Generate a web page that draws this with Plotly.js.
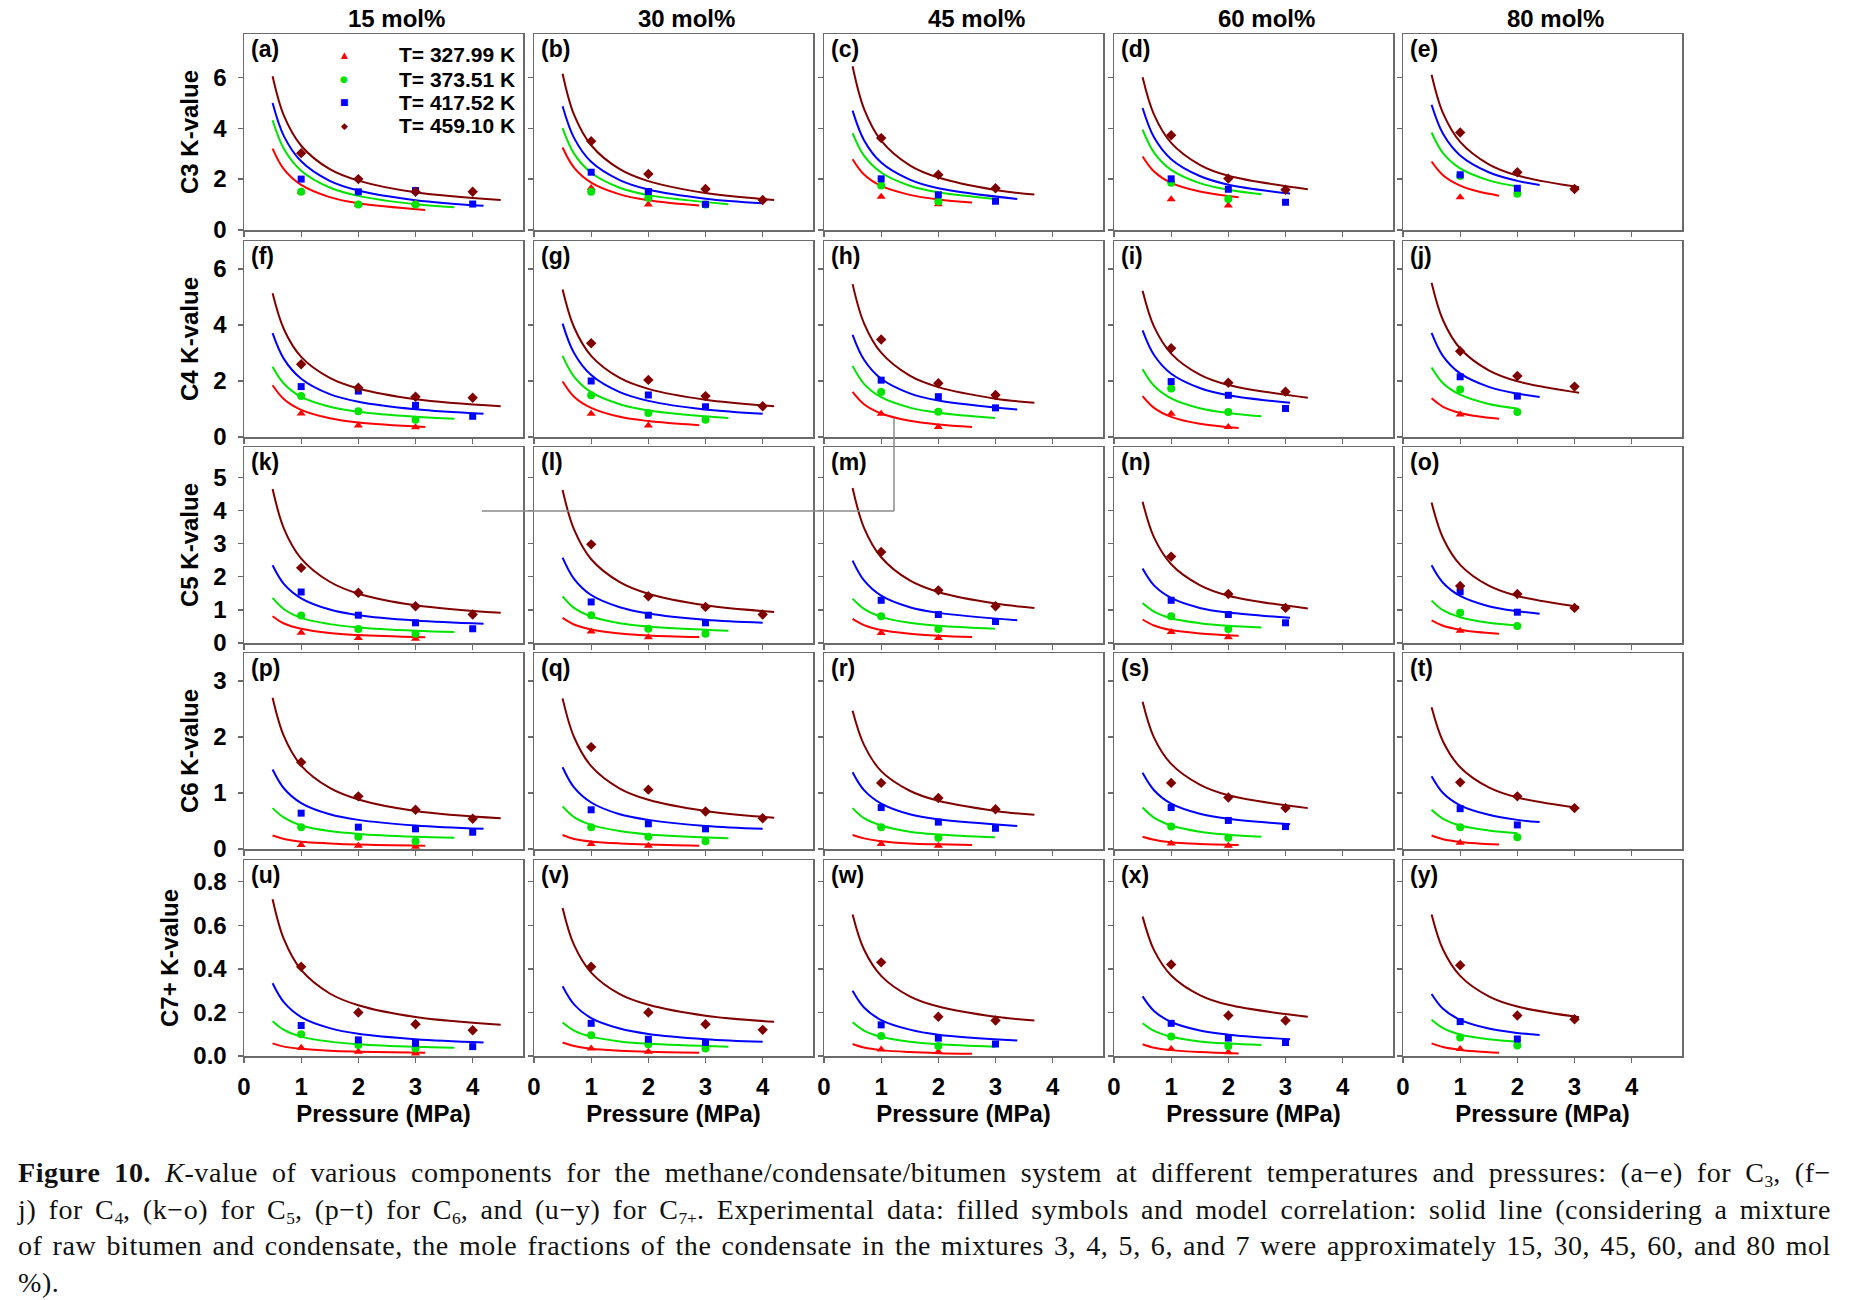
<!DOCTYPE html>
<html>
<head>
<meta charset="utf-8">
<script src="https://cdn.plot.ly/plotly-3.0.1.min.js"></script>
<style>
  html, body { margin:0; padding:0; background:#fff; }
  #chart { position:absolute; left:0; top:0; width:1864px; height:1300px; }
  #cap { position:absolute; left:18px; top:1155px; width:1813px; font-family:'Liberation Serif','DejaVu Serif',serif; font-size:28px; letter-spacing:0.6px; line-height:36.5px; color:#111; z-index:10; }
  #cap .jl { text-align:justify; text-align-last:justify; white-space:nowrap; }
  #cap sub { font-size:0.62em; line-height:0; vertical-align:-0.3em; letter-spacing:0; }
</style>
</head>
<body>
<div id="chart"></div>
<div id="cap">
  <div class="jl"><b>Figure 10.</b> <i>K</i>-value of various components for the methane/condensate/bitumen system at different temperatures and pressures: (a−e) for C<sub>3</sub>, (f−</div>
  <div class="jl">j) for C<sub>4</sub>, (k−o) for C<sub>5</sub>, (p−t) for C<sub>6</sub>, and (u−y) for C<sub>7+</sub>. Experimental data: filled symbols and model correlation: solid line (considering a mixture</div>
  <div class="jl">of raw bitumen and condensate, the mole fractions of the condensate in the mixtures 3, 4, 5, 6, and 7 were approximately 15, 30, 45, 60, and 80 mol</div>
  <div>%).</div>
</div>
<script>
// ---------------- DATA ----------------
const columnTitles = ['15 mol%', '30 mol%', '45 mol%', '60 mol%', '80 mol%'];
const components = ['C3', 'C4', 'C5', 'C6', 'C7+'];
const panelLetters = ['a','b','c','d','e','f','g','h','i','j','k','l','m','n','o','p','q','r','s','t','u','v','w','x','y'];
const temperatures = ['T= 327.99 K', 'T= 373.51 K', 'T= 417.52 K', 'T= 459.10 K'];
const expPressure = [1, 2, 3, 4];
const xTicks = [0, 1, 2, 3, 4];

// model-curve pressures, per temperature, per column (15,30,45,60,80 mol%)
const fitP_T1 = [[0.5,0.7,1,1.5,2,3.17],[0.5,0.7,1,1.5,2,2.89],[0.5,0.7,1,1.5,2,2.59],[0.5,0.7,1,1.5,2.18],[0.5,0.7,1,1.3,1.68]];
const fitP_T2 = [[0.5,0.7,1,1.5,2,3,3.68],[0.5,0.7,1,1.5,2,3.4],[0.5,0.7,1,1.5,2,2.99],[0.5,0.7,1,1.5,2,2.58],[0.5,0.7,1,1.5,2]];
const fitP_T3 = [[0.5,0.7,1,1.5,2,3,4.19],[0.5,0.7,1,1.5,2,3,4],[0.5,0.7,1,1.5,2,3.38],[0.5,0.7,1,1.5,2,3.08],[0.5,0.7,1,1.5,2,2.39]];
const fitP_T4 = [[0.5,0.7,1,1.5,2,3,4.49],[0.5,0.7,1,1.5,2,3,4.2],[0.5,0.7,1,1.5,2,3,3.68],[0.5,0.7,1,1.5,2,3.39],[0.5,0.7,1,1.5,2,3.08]];

// ---- C3 ----
const expC3_T1 = [[1.5,1.0,1.05,null],[1.65,1.0,null,null],[1.31,1.01,null,null],[1.21,0.96,null,null],[1.29,null,null,null]];
const expC3_T2 = [[1.5,1.0,1.0,null],[1.5,1.27,1.0,null],[1.75,1.12,null,null],[1.86,1.22,null,null],[2.12,1.42,null,null]];
const expC3_T3 = [[2.0,1.5,1.55,1.02],[2.27,1.51,1.01,null],[2.01,1.38,1.13,null],[2.01,1.6,1.09,null],[2.17,1.64,null,null]];
const expC3_T4 = [[3.02,2.0,1.5,1.5],[3.49,2.2,1.61,1.18],[3.61,2.17,1.64,null],[3.72,2.02,1.58,null],[3.83,2.27,1.61,null]];
const fitC3_T1 = [[3.2,2.38,1.77,1.29,1.05,0.79],[3.24,2.45,1.86,1.40,1.17,0.96],[2.78,2.18,1.73,1.38,1.20,1.08],[2.89,2.30,1.85,1.51,1.29],[2.69,2.15,1.74,1.52,1.35]];
const fitC3_T2 = [[4.31,3.18,2.33,1.67,1.34,1.01,0.89],[4.0,3.0,2.25,1.66,1.37,1.01],[3.81,2.92,2.26,1.74,1.48,1.22],[3.94,3.04,2.36,1.84,1.58,1.40],[3.83,3.02,2.42,1.95,1.71]];
const fitC3_T3 = [[4.99,3.68,2.70,1.93,1.55,1.17,0.95],[4.86,3.62,2.68,1.96,1.59,1.23,1.05],[4.69,3.53,2.65,1.98,1.64,1.22],[4.79,3.64,2.78,2.12,1.78,1.43],[4.92,3.78,2.93,2.27,1.93,1.77]];
const fitC3_T4 = [[6.04,4.48,3.31,2.39,1.94,1.48,1.18],[6.14,4.53,3.33,2.39,1.92,1.45,1.18],[6.43,4.76,3.51,2.54,2.06,1.57,1.39],[6.0,4.53,3.42,2.56,2.13,1.60],[6.1,4.59,3.46,2.58,2.14,1.68]];

// ---- C4 ----
const expC4_T1 = [[0.84,0.41,0.35,null],[0.83,0.41,null,null],[0.83,0.36,null,null],[0.83,0.36,null,null],[0.8,null,null,null]];
const expC4_T2 = [[1.46,0.92,0.62,null],[1.49,0.86,0.62,null],[1.61,0.9,null,null],[1.73,0.89,null,null],[1.7,0.89,null,null]];
const expC4_T3 = [[1.8,1.64,1.13,0.74],[2.0,1.5,1.08,null],[2.03,1.44,1.04,null],[1.98,1.49,1.02,null],[2.15,1.46,null,null]];
const expC4_T4 = [[2.6,1.76,1.44,1.4],[3.35,2.04,1.46,1.1],[3.48,1.92,1.5,null],[3.17,1.94,1.62,null],[3.06,2.18,1.8,null]];
const fitC4_T1 = [[1.85,1.35,0.97,0.67,0.52,0.36],[1.98,1.44,1.04,0.72,0.57,0.42],[1.61,1.17,0.84,0.58,0.45,0.36],[1.46,1.04,0.72,0.47,0.32],[1.38,1.08,0.86,0.74,0.65]];
const fitC4_T2 = [[2.51,1.90,1.43,1.08,0.90,0.72,0.65],[2.9,2.16,1.60,1.17,0.95,0.68],[2.54,1.90,1.42,1.05,0.87,0.68],[2.42,1.83,1.38,1.03,0.86,0.74],[2.48,1.92,1.51,1.18,1.02]];
const fitC4_T3 = [[3.71,2.78,2.08,1.53,1.26,0.99,0.83],[4.05,3.0,2.21,1.60,1.29,0.98,0.83],[3.65,2.76,2.08,1.56,1.30,0.98],[3.81,2.93,2.26,1.75,1.49,1.22],[3.72,2.89,2.27,1.79,1.55,1.43]];
const fitC4_T4 = [[5.13,3.84,2.86,2.11,1.73,1.35,1.10],[5.27,3.92,2.90,2.11,1.72,1.33,1.10],[5.46,4.06,3.01,2.19,1.78,1.37,1.22],[5.22,3.94,2.98,2.23,1.86,1.40],[5.51,4.17,3.16,2.38,1.99,1.58]];

// ---- C5 ----
const expC5_T1 = [[0.31,0.15,0.13,null],[0.35,0.17,null,null],[0.3,0.15,null,null],[0.33,0.17,null,null],[0.37,null,null,null]];
const expC5_T2 = [[0.83,0.42,0.28,null],[0.84,0.43,0.28,null],[0.81,0.42,null,null],[0.81,0.42,null,null],[0.91,0.51,null,null]];
const expC5_T3 = [[1.54,0.84,0.61,0.43],[1.24,0.84,0.61,null],[1.29,0.86,0.65,null],[1.29,0.86,0.61,null],[1.55,0.93,null,null]];
const expC5_T4 = [[2.27,1.52,1.11,0.86],[2.98,1.41,1.09,0.86],[2.75,1.59,1.11,null],[2.61,1.48,1.06,null],[1.72,1.48,1.06,null]];
const fitC5_T1 = [[0.81,0.59,0.43,0.30,0.24,0.17],[0.76,0.56,0.41,0.29,0.23,0.18],[0.73,0.54,0.39,0.28,0.22,0.18],[0.71,0.53,0.39,0.29,0.22],[0.68,0.52,0.40,0.33,0.28]];
const fitC5_T2 = [[1.36,1.02,0.76,0.57,0.47,0.37,0.33],[1.41,1.06,0.80,0.60,0.50,0.37],[1.34,1.03,0.79,0.61,0.52,0.43],[1.21,0.95,0.75,0.60,0.52,0.47],[1.28,0.99,0.78,0.61,0.53]];
const fitC5_T3 = [[2.35,1.78,1.35,1.01,0.84,0.68,0.58],[2.58,1.94,1.45,1.08,0.89,0.70,0.61],[2.49,1.89,1.43,1.08,0.91,0.69],[2.25,1.74,1.36,1.06,0.92,0.76],[2.35,1.82,1.42,1.11,0.96,0.88]];
const fitC5_T4 = [[4.65,3.45,2.55,1.85,1.49,1.14,0.91],[4.62,3.43,2.53,1.84,1.49,1.14,0.94],[4.68,3.48,2.59,1.89,1.54,1.19,1.06],[4.27,3.19,2.38,1.75,1.43,1.04],[4.24,3.17,2.36,1.73,1.42,1.09]];

// ---- C6 ----
const expC6_T1 = [[0.07,0.06,0.04,null],[0.09,0.06,null,null],[0.09,0.06,null,null],[0.1,0.06,null,null],[0.11,null,null,null]];
const expC6_T2 = [[0.39,0.22,0.14,null],[0.39,0.22,0.14,null],[0.39,0.2,null,null],[0.4,0.2,null,null],[0.39,0.21,null,null]];
const expC6_T3 = [[0.64,0.39,0.36,0.3],[0.7,0.45,0.36,null],[0.74,0.48,0.37,null],[0.74,0.51,0.4,null],[0.72,0.43,null,null]];
const expC6_T4 = [[1.55,0.94,0.7,0.54],[1.82,1.06,0.67,0.55],[1.18,0.91,0.71,null],[1.18,0.92,0.73,null],[1.19,0.94,0.73,null]];
const fitC6_T1 = [[0.24,0.18,0.13,0.10,0.08,0.06],[0.25,0.18,0.135,0.10,0.08,0.06],[0.25,0.19,0.14,0.10,0.083,0.07],[0.22,0.165,0.12,0.09,0.07],[0.24,0.175,0.126,0.10,0.08]];
const fitC6_T2 = [[0.73,0.56,0.42,0.32,0.27,0.22,0.20],[0.76,0.57,0.43,0.32,0.26,0.19],[0.73,0.55,0.42,0.31,0.26,0.21],[0.74,0.56,0.42,0.31,0.255,0.22],[0.70,0.54,0.42,0.33,0.28]];
const fitC6_T3 = [[1.42,1.08,0.82,0.62,0.52,0.42,0.36],[1.46,1.10,0.83,0.62,0.52,0.41,0.36],[1.37,1.05,0.81,0.62,0.53,0.41],[1.36,1.05,0.81,0.63,0.54,0.44],[1.3,1.0,0.78,0.61,0.52,0.48]];
const fitC6_T4 = [[2.7,2.01,1.49,1.09,0.885,0.68,0.55],[2.69,2.0,1.48,1.08,0.88,0.68,0.56],[2.47,1.86,1.39,1.04,0.86,0.68,0.61],[2.63,1.99,1.52,1.15,0.96,0.73],[2.53,1.92,1.46,1.10,0.92,0.73]];

// ---- C7+ ----
const expC7_T1 = [[0.038,0.02,0.012,null],[0.035,0.02,null,null],[0.03,0.02,null,null],[0.032,0.017,null,null],[0.032,null,null,null]];
const expC7_T2 = [[0.1,0.05,0.034,null],[0.095,0.054,0.034,null],[0.092,0.046,null,null],[0.089,0.046,null,null],[0.085,0.048,null,null]];
const expC7_T3 = [[0.14,0.074,0.058,0.043],[0.15,0.077,0.062,null],[0.143,0.082,0.055,null],[0.15,0.082,0.062,null],[0.158,0.078,null,null]];
const expC7_T4 = [[0.41,0.2,0.146,0.118],[0.41,0.2,0.146,0.12],[0.43,0.18,0.163,null],[0.42,0.186,0.163,null],[0.417,0.186,0.169,null]];
const fitC7_T1 = [[0.058,0.043,0.033,0.024,0.020,0.015],[0.062,0.046,0.033,0.024,0.019,0.015],[0.055,0.039,0.027,0.018,0.013,0.010],[0.054,0.038,0.027,0.018,0.012],[0.058,0.041,0.028,0.021,0.015]];
const fitC7_T2 = [[0.16,0.12,0.089,0.066,0.054,0.042,0.038],[0.154,0.117,0.089,0.067,0.056,0.043],[0.155,0.117,0.088,0.065,0.054,0.043],[0.15,0.115,0.088,0.067,0.057,0.050],[0.166,0.128,0.099,0.077,0.066]];
const fitC7_T3 = [[0.334,0.246,0.179,0.128,0.102,0.077,0.062],[0.32,0.237,0.174,0.126,0.101,0.077,0.065],[0.30,0.223,0.165,0.121,0.098,0.071],[0.274,0.207,0.156,0.117,0.098,0.077],[0.285,0.217,0.166,0.126,0.106,0.097]];
const fitC7_T4 = [[0.72,0.535,0.395,0.287,0.233,0.179,0.143],[0.68,0.51,0.383,0.284,0.235,0.185,0.157],[0.65,0.489,0.368,0.274,0.227,0.180,0.163],[0.64,0.486,0.370,0.280,0.235,0.18],[0.65,0.489,0.368,0.274,0.227,0.178]];

// axis ranges / ticks per row
const yMax = [7.7, 7.0, 5.92, 3.5, 0.9];
const yDtick = [2, 2, 1, 1, 0.2];

// ---------------- ASSEMBLY ----------------
const fitP = [fitP_T1, fitP_T2, fitP_T3, fitP_T4];
const expAll = [
  [expC3_T1, expC3_T2, expC3_T3, expC3_T4],
  [expC4_T1, expC4_T2, expC4_T3, expC4_T4],
  [expC5_T1, expC5_T2, expC5_T3, expC5_T4],
  [expC6_T1, expC6_T2, expC6_T3, expC6_T4],
  [expC7_T1, expC7_T2, expC7_T3, expC7_T4]
];
const fitAll = [
  [fitC3_T1, fitC3_T2, fitC3_T3, fitC3_T4],
  [fitC4_T1, fitC4_T2, fitC4_T3, fitC4_T4],
  [fitC5_T1, fitC5_T2, fitC5_T3, fitC5_T4],
  [fitC6_T1, fitC6_T2, fitC6_T3, fitC6_T4],
  [fitC7_T1, fitC7_T2, fitC7_T3, fitC7_T4]
];

const W = 1864, H = 1300;
const colLeft = [244, 534, 824, 1114, 1403];
const rowTop = [34, 241, 447, 653, 860];
const pW = 279, pH = 196;
const COLORS = ['#ff0000', '#00e400', '#0000ff', '#800000'];
const SYMBOLS = ['triangle-up', 'circle', 'square', 'diamond'];
const MSIZE = [8, 8, 7, 8];
const FONT = 'Liberation Sans, Arial, sans-serif';
const AXC = '#6b6b6b';

const layout = {
  width: W, height: H,
  margin: {l:0, r:0, t:0, b:0},
  paper_bgcolor: '#ffffff', plot_bgcolor: '#ffffff',
  showlegend: false,
  font: {family: FONT, color: '#000'},
  annotations: [], shapes: []
};
const lineTraces = [], markerTraces = [];

for (let r = 0; r < 5; r++) {
  for (let c = 0; c < 5; c++) {
    const n = r * 5 + c + 1;
    const xs = n === 1 ? '' : String(n);
    const xa = 'x' + xs, ya = 'y' + xs;
    layout['xaxis' + xs] = {
      domain: [colLeft[c] / W, (colLeft[c] + pW) / W],
      range: [0, 4.88], anchor: ya,
      tickvals: xTicks, ticks: 'outside', ticklen: 5, tickwidth: 1.3, tickcolor: AXC,
      showticklabels: r === 4, ticklabelstandoff: 4,
      tickfont: {family: FONT, size: 24, weight: 700, color: '#000'},
      showline: true, linecolor: AXC, linewidth: 1.5, mirror: true,
      showgrid: false, zeroline: false,
      title: r === 4 ? {text: 'Pressure (MPa)', font: {family: FONT, size: 24, weight: 700, color: '#000'}, standoff: 2} : {text: ''}
    };
    layout['yaxis' + xs] = {
      domain: [1 - (rowTop[r] + pH) / H, 1 - rowTop[r] / H],
      range: [0, yMax[r]], anchor: xa,
      tick0: 0, dtick: yDtick[r], tickformat: r === 4 ? '.1f' : '',
      ticks: 'outside', ticklen: 5, tickwidth: 1.3, tickcolor: AXC,
      showticklabels: c === 0, ticklabelstandoff: 6,
      tickfont: {family: FONT, size: 24, weight: 700, color: '#000'},
      showline: true, linecolor: AXC, linewidth: 1.5, mirror: true,
      showgrid: false, zeroline: false,
      title: c === 0 ? {text: components[r] + ' K-value', font: {family: FONT, size: 24, weight: 700, color: '#000'}, standoff: 8} : {text: ''}
    };
    // panel letter
    layout.annotations.push({
      xref: 'paper', yref: 'paper', x: (colLeft[c] + 5) / W, y: 1 - (rowTop[r] + 15) / H,
      xanchor: 'left', yanchor: 'middle', showarrow: false,
      text: '(' + panelLetters[n - 1] + ')', font: {family: FONT, size: 23, weight: 700, color: '#000'}
    });
    for (let t = 0; t < 4; t++) {
      lineTraces.push({
        type: 'scatter', mode: 'lines', xaxis: xa, yaxis: ya,
        x: fitP[t][c], y: fitAll[r][t][c],
        line: {color: COLORS[t], width: 2, shape: 'spline', smoothing: 1},
        hoverinfo: 'skip', showlegend: false
      });
      markerTraces.push({
        type: 'scatter', mode: 'markers', xaxis: xa, yaxis: ya,
        x: expPressure, y: expAll[r][t][c], name: temperatures[t],
        marker: {color: COLORS[t], symbol: SYMBOLS[t], size: MSIZE[t], line: {width: 0}},
        showlegend: false
      });
    }
  }
}

// column titles
for (let c = 0; c < 5; c++) {
  layout.annotations.push({
    xref: 'paper', yref: 'paper', x: (colLeft[c] + pW / 2 + 13) / W, y: 1 - 19 / H,
    xanchor: 'center', yanchor: 'middle', showarrow: false,
    text: columnTitles[c], font: {family: FONT, size: 24, weight: 700, color: '#000'}
  });
}
// legend inside panel (a): symbols + labels
const legSym = ['▲', '●', '■', '◆'];
const legY = [55, 79, 102, 126];
for (let t = 0; t < 4; t++) {
  layout.annotations.push({
    xref: 'paper', yref: 'paper', x: 344 / W, y: 1 - legY[t] / H,
    xanchor: 'center', yanchor: 'middle', showarrow: false,
    text: legSym[t], font: {family: 'DejaVu Sans, sans-serif', size: 9, color: COLORS[t]}
  });
  layout.annotations.push({
    xref: 'paper', yref: 'paper', x: 517 / W, y: 1 - legY[t] / H,
    xanchor: 'right', yanchor: 'middle', showarrow: false,
    text: temperatures[t], font: {family: FONT, size: 21, weight: 700, color: '#000'}
  });
}
// stray grey frame lines present in the source image
layout.shapes.push({type: 'line', xref: 'paper', yref: 'paper', x0: 482 / W, x1: 894 / W, y0: 1 - 511 / H, y1: 1 - 511 / H, line: {color: '#8a8a8a', width: 1.5}});
layout.shapes.push({type: 'line', xref: 'paper', yref: 'paper', x0: 894 / W, x1: 894 / W, y0: 1 - 418 / H, y1: 1 - 511 / H, line: {color: '#8a8a8a', width: 1.5}});

Plotly.newPlot('chart', lineTraces.concat(markerTraces), layout, {staticPlot: true, displayModeBar: false});
</script>
</body>
</html>
